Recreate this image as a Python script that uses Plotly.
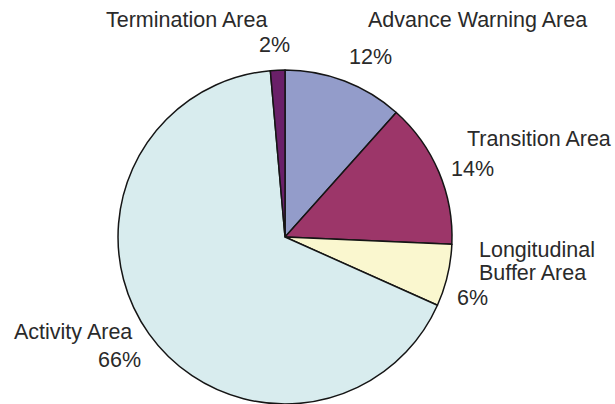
import plotly.graph_objects as go

# Data (clockwise from 12 o'clock)
areas = ["Advance Warning Area", "Transition Area", "Longitudinal Buffer Area",
         "Activity Area", "Termination Area"]
shares = [11.6, 14.1, 6.0, 66.9, 1.4]
pct_labels = ["12%", "14%", "6%", "66%", "2%"]
colors = ["#939CCA", "#9C3669", "#FAF7CF", "#D8ECEE", "#6A2069"]

W, H = 615, 404

fig = go.Figure(go.Pie(
    labels=areas, values=shares, sort=False, direction="clockwise", rotation=0,
    marker=dict(colors=colors, line=dict(color="#151515", width=1.5)),
    textinfo="none", hoverinfo="label+percent", showlegend=False,
    domain=dict(x=[0.1919, 0.7350], y=[0.0, 0.8267]),
))

font = dict(family="Liberation Sans, Arial, sans-serif", size=21.5, color="#2a2a2a")

# label placements (pixel positions in the page); each line is its own annotation
name_lines = {
    "Advance Warning Area": [(477, 20, "center", "Advance Warning Area")],
    "Transition Area": [(539, 139, "center", "Transition Area")],
    "Longitudinal Buffer Area": [(477, 250, "left", "Longitudinal"),
                                 (477, 273, "left", "Buffer Area")],
    "Activity Area": [(12, 332, "left", "Activity Area")],
    "Termination Area": [(186, 20, "center", "Termination Area")],
}
pct_pos = [(370, 57, "center"), (472, 169, "center"), (472, 298, "center"),
           (143, 360, "right"), (274, 45, "center")]

annotations = []
for name, pct, pp in zip(areas, pct_labels, pct_pos):
    for x, y, anc, txt in name_lines[name]:
        annotations.append(dict(x=x / W, y=1 - y / H, xref="paper", yref="paper",
                                text=txt, showarrow=False, xanchor=anc,
                                yanchor="middle", font=font))
    annotations.append(dict(x=pp[0] / W, y=1 - pp[1] / H, xref="paper", yref="paper",
                            text=pct, showarrow=False, xanchor=pp[2], yanchor="middle",
                            font=font))

fig.update_layout(
    width=W, height=H, margin=dict(l=0, r=0, t=0, b=0),
    paper_bgcolor="white", plot_bgcolor="white",
    annotations=annotations,
)

fig.write_html("out.html")
